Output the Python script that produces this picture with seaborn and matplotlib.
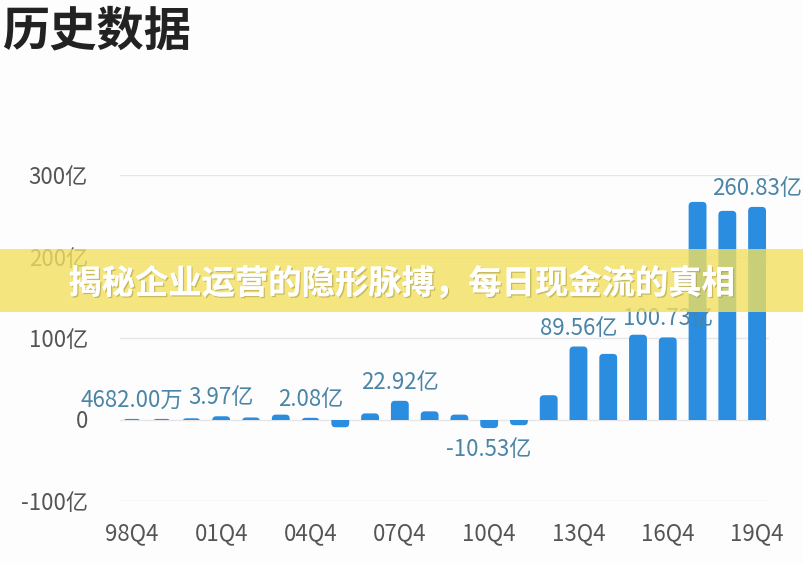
import matplotlib
matplotlib.use("Agg")
import matplotlib.pyplot as plt
import matplotlib.patheffects as pe
from matplotlib.patches import FancyBboxPatch, Rectangle
from matplotlib.transforms import Bbox, TransformedBbox
import seaborn as sns
import pandas as pd

# ---- data ----
quarters = ['98Q4', '99Q4', '00Q4', '01Q4', '02Q4', '03Q4', '04Q4', '05Q4', '06Q4', '07Q4', '08Q4',
            '09Q4', '10Q4', '11Q4', '12Q4', '13Q4', '14Q4', '15Q4', '16Q4', '17Q4', '18Q4', '19Q4']
values = [0.4682, 0.3, 1.5, 3.97, 2.5, 6.0, 2.08, -9.5, 7.5, 22.92, 10.0,
          6.0, -10.53, -7.0, 29.8, 89.56, 80.5, 104.0, 100.73, 267.0, 256.0, 260.83]
tick_labels = ['98Q4', '01Q4', '04Q4', '07Q4', '10Q4', '13Q4', '16Q4', '19Q4']
value_labels = {'98Q4': '4682.00万', '01Q4': '3.97亿', '04Q4': '2.08亿', '07Q4': '22.92亿',
                '10Q4': '-10.53亿', '13Q4': '89.56亿', '16Q4': '100.73亿', '19Q4': '260.83亿'}
y_ticks = [-100, 0, 100, 200, 300]
y_tick_labels = ['-100亿', '0', '100亿', '200亿', '300亿']
title = '历史数据'
banner = '揭秘企业运营的隐形脉搏，每日现金流的真相'

sns.set_theme(style="white")
plt.rcParams['font.family'] = ['Noto Sans CJK SC', 'DejaVu Sans']

W, H = 804, 564
fig = plt.figure(figsize=(W / 100, H / 100), dpi=100, facecolor='#fdfdfe')
left, right, top, bottom = 120, 769, 175, 501
ax = fig.add_axes([left / W, 1 - bottom / H, (right - left) / W, (bottom - top) / H])
ax.set_facecolor('#fdfdfe')

df = pd.DataFrame({'q': quarters, 'v': values})
bar_color = '#2b8de0'
sns.barplot(data=df, x='q', y='v', order=quarters, color=bar_color, saturation=1,
            width=0.6, ax=ax, zorder=3)

ax.set_xlim(-0.4, len(quarters) - 0.6)
ax.set_ylim(-100, 300)

# rounded ends away from zero (geometry taken from seaborn's bars)
px_x = (right - left) / (ax.get_xlim()[1] - ax.get_xlim()[0])
px_y = (bottom - top) / (ax.get_ylim()[1] - ax.get_ylim()[0])
for p in list(ax.patches):
    x, y, w, h = p.get_x(), p.get_y(), p.get_width(), p.get_height()
    y0, hh = min(y, y + h), abs(h)
    neg = (y + h) < 0
    if hh * px_y < 0.6:
        hh = 0.6 / px_y
    r = min(4.0, w * px_x / 2)
    ry = r / px_y
    p.remove()
    if neg:
        by, bh = y0, hh + ry
        clip = Bbox([[x - 1, y0 - 1], [x + w + 1, 0]])
    else:
        by, bh = y0 - ry, hh + ry
        clip = Bbox([[x - 1, 0], [x + w + 1, y0 + hh + 1]])
    fb = FancyBboxPatch((x, by), w, bh,
                        boxstyle=f"round,pad=0,rounding_size={r / px_x}",
                        mutation_aspect=px_x / px_y, facecolor=bar_color,
                        edgecolor='none', zorder=3, snap=False)
    ax.add_patch(fb)
    fb.set_clip_box(TransformedBbox(clip, ax.transData))

# grid
for yt in y_ticks:
    ax.axhline(yt, color='#e6e6e8', lw=1.0, zorder=1)

ax.set_yticks(y_ticks)
ax.set_yticklabels(y_tick_labels)
ax.set_xticks([quarters.index(t) for t in tick_labels])
ax.set_xticklabels(tick_labels)
ax.tick_params(axis='y', length=0, pad=23, labelsize=16, labelcolor='#555555')
ax.tick_params(axis='x', length=0, pad=15, labelsize=16, labelcolor='#555555')
ax.set_xlabel('')
ax.set_ylabel('')
for s in ax.spines.values():
    s.set_visible(False)

# value labels
lab_color = '#4a84a6'
for q, txt in value_labels.items():
    i = quarters.index(q)
    v = values[i]
    off = 12 * 0.72 if v >= 0 else -28 * 0.72
    ax.annotate(txt, xy=(i, v), xytext=(0, off), textcoords='offset points',
                ha='center', va='baseline', fontsize=16, color=lab_color,
                zorder=5, annotation_clip=False)

# title
fig.text(2 / W, 1 - 7 / H, title, ha='left', va='top', fontsize=34,
         fontweight='bold', color='#222222')

# banner
fig.add_artist(Rectangle((0, 1 - 312 / H), 1, 63 / H, transform=fig.transFigure,
                         facecolor='#f2e060', alpha=0.8, edgecolor='none', zorder=10))
fig.text(0.5, 1 - 284 / H, banner, ha='center', va='center', fontsize=24,
         fontweight='bold', color='white', zorder=11,
         path_effects=[pe.withSimplePatchShadow(offset=(1, -1), shadow_rgbFace='#a09040', alpha=0.5),
                       pe.Normal()])

fig.savefig('out.png', dpi=100, facecolor=fig.get_facecolor())
